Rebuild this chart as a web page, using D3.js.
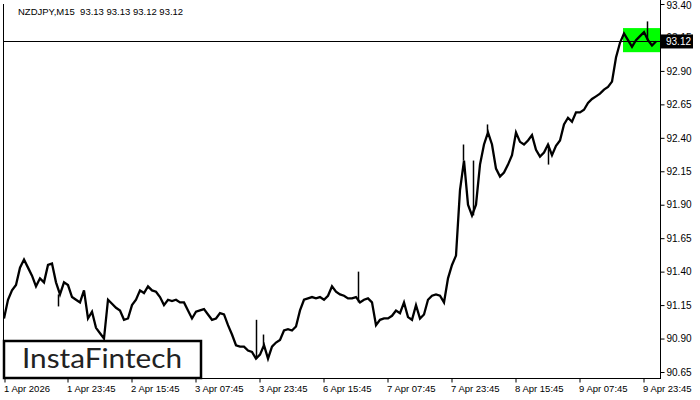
<!DOCTYPE html>
<html><head><meta charset="utf-8">
<script src="https://cdn.jsdelivr.net/npm/d3@7"></script>
<style>html,body{margin:0;padding:0;background:#fff;}svg{display:block;}</style>
</head><body>
<svg id="c" width="700" height="400"></svg>
<script>
const symbol = "NZDJPY,M15";
const ohlc = ["93.13", "93.13", "93.12", "93.12"];
const lastPrice = 93.12;
const barStep = 4;
const closes = [
91.05,91.19,91.26,91.30,91.43,91.49,91.43,91.37,91.29,91.35,
91.32,91.45,91.46,91.32,91.23,91.32,91.30,91.21,91.19,91.17,
91.26,91.05,91.10,90.98,90.94,90.90,91.19,91.16,91.13,91.11,
91.04,91.05,91.15,91.19,91.26,91.24,91.29,91.26,91.25,91.21,
91.15,91.19,91.18,91.19,91.17,91.17,91.11,91.05,91.10,91.11,
91.12,91.08,91.04,91.05,91.09,91.08,91.00,90.93,90.85,90.84,
90.84,90.81,90.80,90.75,90.78,90.85,90.75,90.84,90.87,90.89,
90.96,90.97,90.96,90.99,91.11,91.19,91.20,91.21,91.20,91.21,
91.19,91.22,91.29,91.25,91.23,91.22,91.20,91.20,91.21,91.17,
91.19,91.20,91.17,91.00,91.04,91.05,91.05,91.07,91.11,91.09,
91.17,91.06,91.04,91.15,91.05,91.08,91.19,91.22,91.23,91.22,
91.17,91.35,91.45,91.52,92.01,92.23,91.90,91.82,91.90,92.20,
92.35,92.44,92.35,92.17,92.11,92.14,92.20,92.27,92.44,92.37,
92.35,92.38,92.42,92.31,92.26,92.29,92.35,92.27,92.34,92.38,
92.50,92.55,92.52,92.59,92.59,92.61,92.66,92.69,92.71,92.73,
92.76,92.78,92.82,93.00,93.11,93.18,93.13,93.08,93.13,93.16,
93.19,93.13,93.09,93.12
];
// notable wicks: [bar, extreme price]
const wickBars = [54, 252, 259, 354, 459, 469, 483, 544, 643];
const wickPrices = [91.14, 91.04, 90.93, 91.40, 92.35, 92.23, 92.50, 92.20, 93.27];
const priceTicks = [93.40, 93.15, 92.90, 92.65, 92.40, 92.15, 91.90, 91.65, 91.40, 91.15, 90.90, 90.65];
const timeTickBars = [0, 63, 127, 191, 255, 319, 383, 447, 511, 575, 639];
const timeTickLabels = ["1 Apr 2026","1 Apr 23:45","2 Apr 15:45","3 Apr 07:45","3 Apr 23:45","6 Apr 15:45","7 Apr 07:45","7 Apr 23:45","8 Apr 15:45","9 Apr 07:45","9 Apr 23:45"];
const patternStartBar = 619, patternEndBar = 656, patternHigh = 93.22, patternLow = 93.04;
const brand = "InstaFintech";

const svg = d3.select("#c");
const L = 4, R = 660, T = 4, B = 378;
const x = d3.scaleLinear().domain([0, 656]).range([L, R]);
const y = d3.scaleLinear().domain([90.65, 93.40]).range([372, T]);
const font = "Liberation Sans, Arial, sans-serif";

// pattern rectangle
svg.append("rect").attr("x", x(patternStartBar)).attr("y", y(patternHigh))
  .attr("width", x(patternEndBar) - x(patternStartBar)).attr("height", y(patternLow) - y(patternHigh))
  .attr("fill", "#00ff00");

// current price line
svg.append("line").attr("x1", L).attr("x2", R).attr("y1", Math.round(y(lastPrice)) + 0.5).attr("y2", Math.round(y(lastPrice)) + 0.5)
  .attr("stroke", "#000").attr("stroke-width", 1);

// series
const line = d3.line().x((d, i) => x(i * barStep)).y(d => y(d));
svg.append("path").datum(closes).attr("d", line).attr("fill", "none")
  .attr("stroke", "#000").attr("stroke-width", 2.3).attr("stroke-linejoin", "miter");
// wicks
wickBars.forEach((b, i) => {
  const idx = Math.round(b / barStep);
  svg.append("line").attr("x1", x(b) + 0.5).attr("x2", x(b) + 0.5)
    .attr("y1", y(closes[Math.min(idx, closes.length - 1)])).attr("y2", y(wickPrices[i]))
    .attr("stroke", "#000").attr("stroke-width", 1.5);
});

// frame
svg.append("line").attr("x1", L - 0.5).attr("x2", L - 0.5).attr("y1", T).attr("y2", B).attr("stroke", "#000");
svg.append("line").attr("x1", R + 0.5).attr("x2", R + 0.5).attr("y1", 0).attr("y2", B + 1).attr("stroke", "#000");
svg.append("line").attr("x1", L - 1).attr("x2", R + 1).attr("y1", B + 0.5).attr("y2", B + 0.5).attr("stroke", "#000");

// right axis
const yAxis = d3.axisRight(y).tickValues(priceTicks).tickFormat(d3.format(".2f")).tickSize(4).tickPadding(2);
const ya = svg.append("g").attr("transform", `translate(${R + 0.5},0)`).call(yAxis);
ya.select(".domain").remove();
ya.selectAll("text").attr("font-family", font).attr("font-size", 10).attr("fill", "#000");
ya.selectAll(".tick").filter(d => d === 93.40).select("text").attr("dy", "0.45em");
ya.selectAll("line").attr("stroke", "#000");

// last price box
const ly = y(lastPrice);
svg.append("rect").attr("x", R + 1).attr("y", ly - 7).attr("width", 32).attr("height", 14).attr("fill", "#000");
svg.append("text").attr("x", R + 6).attr("y", ly + 4).attr("fill", "#fff").attr("font-family", font).attr("font-size", 10).text(d3.format(".2f")(lastPrice));

// bottom axis
const xAxis = d3.axisBottom(x).tickValues(timeTickBars).tickFormat((d, i) => timeTickLabels[i]).tickSize(4).tickPadding(3);
const xa = svg.append("g").attr("transform", `translate(0.5,${B + 0.5})`).call(xAxis);
xa.select(".domain").remove();
xa.selectAll("text").attr("text-anchor", "start").attr("dx", -1).attr("font-family", font).attr("font-size", 9.5).attr("fill", "#000");
xa.selectAll("line").attr("stroke", "#000");

// title
svg.append("text").attr("x", 18).attr("y", 15).attr("font-family", font).attr("font-size", 9.5).attr("fill", "#000")
  .attr("xml:space", "preserve").text(symbol + "  " + ohlc.join(" "));

// logo
svg.append("rect").attr("x", 4).attr("y", 341).attr("width", 197).attr("height", 37).attr("fill", "#fff")
  .attr("stroke", "#000").attr("stroke-width", 2.5);
svg.append("text").attr("x", 22).attr("y", 368).attr("font-family", "Lato, sans-serif").attr("font-size", 27)
  .attr("fill", "#222").attr("textLength", 160).attr("lengthAdjust", "spacingAndGlyphs").text(brand);
</script>
</body></html>
